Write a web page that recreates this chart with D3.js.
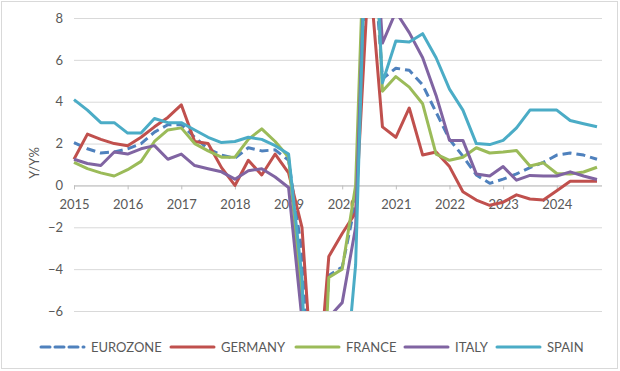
<!DOCTYPE html>
<html>
<head>
<meta charset="utf-8">
<script src="https://cdn.jsdelivr.net/npm/d3@7"></script>
<style>
  body { margin: 0; background: #fff; }
  text { font-family: Lato, "Open Sans", sans-serif; fill: #595959; }
  .grid line { stroke: #d9d9d9; }
</style>
</head>
<body>
<div id="chart"></div>
<script>
// quarterly Y/Y %, first point = first "2015" tick, 40 quarters
const years = ["2015", "2016", "2017", "2018", "2019", "2020", "2021", "2022", "2023", "2024"];

const eurozone = [2.05, 1.75, 1.55, 1.6, 1.75, 2.0, 2.55, 2.9, 2.9, 2.3,
  1.75, 1.45, 1.3, 1.8, 1.65, 1.7, 1.2, -3.2, -14.5, -4.3,
  -3.9, -0.8, 14.2, 5.1, 5.6, 5.5, 4.8, 3.5, 2.2, 1.4,
  0.5, 0.1, 0.3, 0.55, 0.85, 1.1, 1.45, 1.55, 1.45, 1.25];
const germany = [1.25, 2.45, 2.2, 2.0, 1.9, 2.3, 2.8, 3.25, 3.85, 2.1,
  2.0, 0.85, 0.0, 1.2, 0.5, 1.5, 0.6, -2.0, -11.3, -3.4,
  -2.3, -1.3, 10.5, 2.8, 2.3, 3.7, 1.45, 1.6, 0.9, -0.3,
  -0.7, -0.95, -0.8, -0.45, -0.65, -0.7, -0.25, 0.2, 0.2, 0.2];
const france = [1.1, 0.8, 0.6, 0.45, 0.75, 1.15, 2.1, 2.65, 2.75, 2.0,
  1.65, 1.35, 1.35, 2.2, 2.7, 2.1, 1.35, -5.5, -18.6, -4.4,
  -4.0, 0.0, 18.7, 4.5, 5.2, 4.7, 3.9, 1.5, 1.2, 1.35,
  1.8, 1.55, 1.6, 1.67, 0.93, 1.08, 0.57, 0.55, 0.64, 0.87];
const italy = [1.25, 1.05, 0.95, 1.6, 1.5, 1.75, 1.9, 1.25, 1.5, 0.95,
  0.8, 0.65, 0.3, 0.7, 0.8, 0.4, -0.1, -6.4, -18.1, -6.3,
  -5.6, -2.0, 17.0, 6.8, 8.3, 7.3, 6.1, 4.3, 2.15, 2.15,
  0.55, 0.45, 0.9, 0.25, 0.48, 0.45, 0.45, 0.65, 0.45, 0.28];
const spain = [4.1, 3.6, 3.0, 3.0, 2.5, 2.5, 3.2, 3.0, 3.0, 2.65,
  2.3, 2.05, 2.1, 2.3, 2.2, 1.9, 1.5, -4.4, -21.5, -9.0,
  -11.0, -3.8, 17.5, 4.9, 6.9, 6.85, 7.25, 6.1, 4.6, 3.6,
  2.0, 1.95, 2.15, 2.75, 3.6, 3.6, 3.6, 3.1, 2.95, 2.8];

const seriesNames = ["EUROZONE", "GERMANY", "FRANCE", "ITALY", "SPAIN"];
const seriesValues = [eurozone, germany, france, italy, spain];
const seriesColors = ["#4f81bd", "#c0504d", "#9bbb59", "#8064a2", "#4bacc6"];

const width = 620;
const height = 371;

const svg = d3.select("#chart").append("svg")
  .attr("width", width)
  .attr("height", height);

// outer frame
svg.append("rect")
  .attr("x", 1.5).attr("y", 1.5)
  .attr("width", 616).attr("height", 367)
  .attr("fill", "#fff")
  .attr("stroke", "#d9d9d9");

const plotLeft = 74, plotRight = 602, plotTop = 18, plotBottom = 311;

const x = d3.scaleLinear().domain([0, eurozone.length - 1]).range([plotLeft, 597]);
const y = d3.scaleLinear().domain([-6, 8]).range([plotBottom, plotTop]);

// gridlines + y labels
const yAxis = svg.append("g")
  .attr("class", "grid")
  .attr("transform", `translate(${plotLeft},0)`)
  .call(d3.axisLeft(y).tickValues(d3.range(-6, 9, 2)).tickSize(-(plotRight - plotLeft)).tickPadding(11));
yAxis.select(".domain").remove();
yAxis.selectAll("text").style("font-size", "13px");

svg.append("text")
  .attr("transform", "translate(39,163) rotate(-90)")
  .attr("text-anchor", "middle")
  .style("font-size", "13px")
  .text("Y/Y%");

// x axis sits at zero
const xAxis = svg.append("g")
  .attr("transform", `translate(0,${y(0)})`)
  .call(d3.axisBottom(x)
    .tickValues(years.map((d, i) => i * 4))
    .tickFormat((d, i) => years[i])
    .tickSize(4)
    .tickSizeOuter(0)
    .tickPadding(10));
xAxis.select(".domain").attr("stroke", "#bfbfbf").attr("d", `M${plotLeft},0.5H${plotRight}`);
xAxis.selectAll(".tick line").attr("stroke", "#bfbfbf");
xAxis.selectAll("text").style("font-size", "13px");

// lines, clipped to the plot area
svg.append("clipPath").attr("id", "plot")
  .append("rect")
  .attr("x", 0).attr("y", plotTop)
  .attr("width", width).attr("height", plotBottom - plotTop);

const line = d3.line()
  .x((d, i) => x(i))
  .y(d => y(d));

svg.append("g")
  .attr("clip-path", "url(#plot)")
  .selectAll("path")
  .data(seriesValues)
  .enter()
  .append("path")
  .attr("d", d => line(d))
  .attr("fill", "none")
  .attr("stroke", (d, i) => seriesColors[i])
  .attr("stroke-width", 3)
  .attr("stroke-linejoin", "round")
  .attr("stroke-dasharray", (d, i) => i === 0 ? "9,5" : null);

// legend
const legendX = [41, 171, 296, 405, 497];
const legend = svg.append("g").attr("class", "legend");
const items = legend.selectAll("g")
  .data(seriesNames)
  .enter()
  .append("g")
  .attr("transform", (d, i) => `translate(${legendX[i]},347)`);
items.append("line")
  .attr("x1", 0).attr("x2", 43)
  .attr("stroke", (d, i) => seriesColors[i])
  .attr("stroke-width", 3)
  .attr("stroke-linecap", "round")
  .attr("stroke-dasharray", (d, i) => i === 0 ? "9,5" : null);
items.append("text")
  .attr("x", 50)
  .attr("dy", "0.35em")
  .style("font-size", "13px")
  .text(d => d);
</script>
</body>
</html>
